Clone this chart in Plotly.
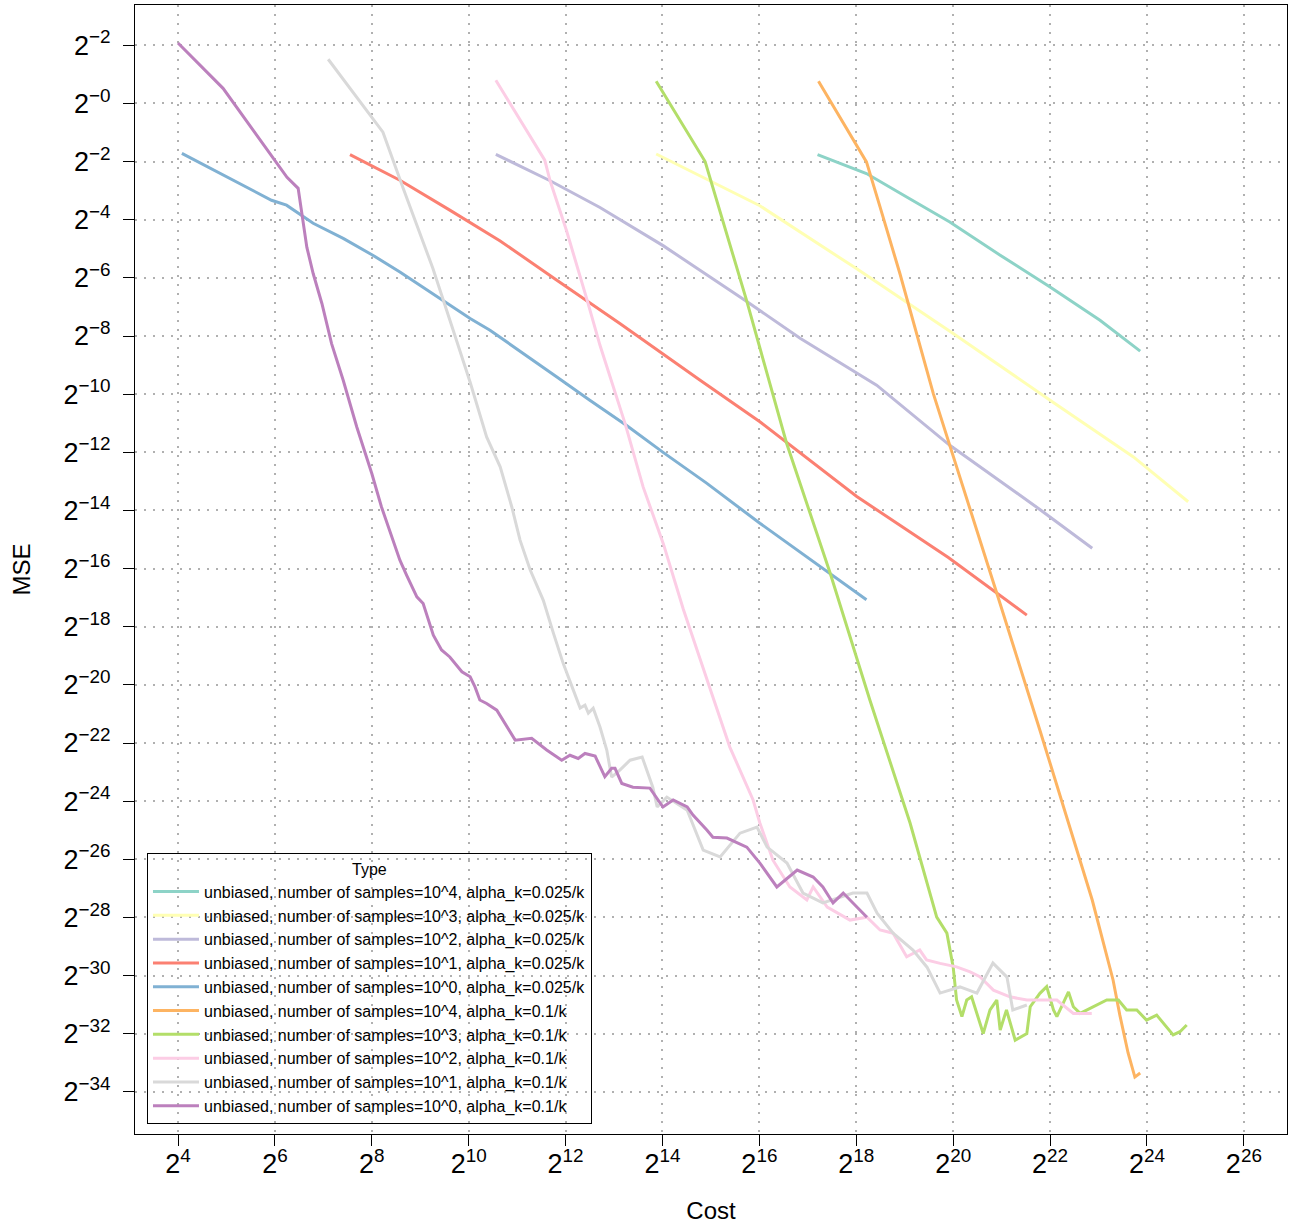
import numpy as np
import plotly.graph_objects as go

# ---- data: log2(cost) and log2(MSE) ----
names = [
    "unbiased, number of samples=10^4, alpha_k=0.025/k",
    "unbiased, number of samples=10^3, alpha_k=0.025/k",
    "unbiased, number of samples=10^2, alpha_k=0.025/k",
    "unbiased, number of samples=10^1, alpha_k=0.025/k",
    "unbiased, number of samples=10^0, alpha_k=0.025/k",
    "unbiased, number of samples=10^4, alpha_k=0.1/k",
    "unbiased, number of samples=10^3, alpha_k=0.1/k",
    "unbiased, number of samples=10^2, alpha_k=0.1/k",
    "unbiased, number of samples=10^1, alpha_k=0.1/k",
    "unbiased, number of samples=10^0, alpha_k=0.1/k",
]
colors = ["#8DD3C7", "#FFFFB3", "#BEBADA", "#FB8072", "#80B1D3",
          "#FDB462", "#B3DE69", "#FCCDE5", "#D9D9D9", "#BC80BD"]

s1_cost = [17.20, 18.21, 19.04, 19.93, 20.97, 22.00, 23.03, 23.86]
s1_mse = [-1.76, -2.41, -3.22, -4.08, -5.22, -6.31, -7.46, -8.52]

s2_cost = [13.87, 16.01, 18.01, 20.00, 22.00, 23.72, 24.85]
s2_mse = [-1.74, -3.52, -5.69, -7.91, -10.21, -12.16, -13.70]

s3_cost = [10.56, 11.68, 12.71, 14.02, 15.74, 16.84, 18.42, 19.93, 21.76, 22.87]
s3_mse = [-1.75, -2.66, -3.58, -4.90, -6.81, -8.08, -9.69, -11.76, -13.93, -15.30]

s4_cost = [7.55, 8.58, 9.61, 10.65, 11.82, 13.12, 14.77, 16.01, 18.01, 19.90, 21.52]
s4_mse = [-1.76, -2.64, -3.67, -4.73, -6.08, -7.57, -9.51, -10.95, -13.52, -15.62, -17.60]

s5_cost = [4.08, 5.93, 6.24, 6.79, 7.41, 8.02, 8.58, 9.20, 10.03, 10.44, 10.99,
           11.82, 12.50, 13.26, 14.02, 14.91, 16.01, 16.84, 18.21]
s5_mse = [-1.72, -3.33, -3.50, -4.12, -4.64, -5.22, -5.80, -6.48, -7.40, -7.80, -8.43,
          -9.41, -10.21, -11.08, -12.01, -13.06, -14.44, -15.43, -17.07]

s6_cost = [17.22, 18.21, 18.49, 18.90, 19.59, 20.35, 20.92, 21.79, 22.87, 23.30,
           23.44, 23.61, 23.75, 23.86]
s6_mse = [0.76, -2.01, -3.56, -5.85, -9.98, -13.93, -16.95, -21.56, -27.40, -30.15,
          -31.36, -32.66, -33.49, -33.35]

s7_cost = [13.87, 14.88, 15.74, 16.56, 17.46, 18.01, 18.28, 19.11, 19.66, 19.87, 20.00,
           20.07, 20.18, 20.28, 20.38, 20.62, 20.76, 20.90, 20.97, 21.10, 21.28, 21.52,
           21.59, 21.79, 21.93, 22.07, 22.14, 22.38, 22.48, 22.62, 22.89, 23.17, 23.41,
           23.58, 23.79, 23.99, 24.20, 24.41, 24.54, 24.68, 24.82]
s7_mse = [0.76, -2.00, -6.80, -11.68, -16.15, -19.05, -20.52, -24.75, -27.99, -28.54, -29.71,
          -30.84, -31.41, -30.84, -30.73, -31.99, -31.18, -30.84, -31.87, -31.18, -32.22, -31.99,
          -31.07, -30.61, -30.38, -31.18, -31.41, -30.56, -31.07, -31.30, -31.07, -30.84, -30.84,
          -31.18, -31.18, -31.53, -31.36, -31.76, -32.04, -31.93, -31.70]

s8_cost = [10.56, 11.57, 11.68, 12.02, 12.44, 12.71, 13.23, 13.60, 14.02, 14.43, 15.04,
           15.39, 15.87, 16.01, 16.28, 16.63, 16.98, 17.11, 17.40, 17.87, 18.22, 18.49,
           18.76, 19.04, 19.31, 19.45, 19.73, 20.07, 20.35, 20.55, 20.83, 21.17, 21.52,
           21.79, 22.14, 22.48, 22.86]
s8_mse = [0.80, -1.95, -2.66, -4.38, -6.74, -8.32, -11.02, -13.19, -15.16, -17.40, -20.42,
          -22.14, -23.96, -24.75, -26.03, -26.95, -27.40, -26.95, -27.64, -28.09, -27.99, -28.43,
          -28.54, -29.35, -29.12, -29.46, -29.58, -29.70, -29.87, -30.04, -30.50, -30.73, -30.84,
          -30.84, -30.84, -31.30, -31.30]

s9_cost = [7.10, 8.23, 8.64, 9.26, 9.68, 10.03, 10.37, 10.65, 10.89, 11.06, 11.27, 11.54,
           11.75, 11.95, 12.16, 12.30, 12.40, 12.47, 12.57, 12.71, 12.85, 12.95, 13.12,
           13.33, 13.58, 13.80, 13.89, 14.09, 14.51, 14.84, 15.19, 15.60, 15.95, 16.16,
           16.57, 16.90, 17.31, 17.93, 18.22, 18.43, 18.76, 19.17, 19.46, 19.73, 20.14,
           20.49, 20.82, 21.11, 21.23, 21.52]
s9_mse = [1.52, -0.99, -2.88, -5.67, -7.80, -9.59, -11.47, -12.50, -13.88, -15.02, -16.05,
          -17.09, -18.23, -19.26, -20.18, -20.80, -20.70, -20.97, -20.80, -21.45, -22.24,
          -23.17, -22.93, -22.59, -22.48, -23.52, -24.20, -23.86, -24.31, -25.68, -25.92,
          -25.10, -24.89, -25.58, -26.13, -27.16, -27.50, -27.16, -27.16, -27.85, -28.54,
          -29.12, -29.71, -30.60, -30.39, -30.60, -29.57, -30.05, -31.18, -31.01]

s10_cost = [4.00, 4.93, 5.55, 6.00, 6.25, 6.48, 6.66, 6.79, 6.97, 7.17, 7.41, 7.69, 8.00,
            8.20, 8.44, 8.58, 8.72, 8.93, 9.06, 9.17, 9.27, 9.44, 9.61, 9.86, 10.03, 10.13,
            10.23, 10.37, 10.58, 10.96, 11.30, 11.61, 11.92, 12.09, 12.26, 12.40, 12.61,
            12.81, 12.95, 13.02, 13.16, 13.39, 13.74, 14.01, 14.22, 14.51, 14.63, 14.92,
            15.04, 15.33, 15.74, 16.01, 16.36, 16.78, 17.11, 17.31, 17.52, 17.73, 18.01,
            18.14, 18.22]
s10_mse = [2.08, 0.52, -0.92, -1.95, -2.54, -2.92, -4.95, -5.85, -6.88, -8.26, -9.52, -11.13,
           -12.73, -13.88, -15.02, -15.71, -16.23, -16.97, -17.20, -17.77, -18.29, -18.80,
           -19.04, -19.55, -19.72, -20.07, -20.52, -20.64, -20.87, -21.90, -21.84, -22.24,
           -22.59, -22.42, -22.53, -22.36, -22.45, -23.16, -22.87, -22.87, -23.39, -23.52,
           -23.55, -24.20, -23.96, -24.20, -24.48, -25.00, -25.24, -25.27, -25.58, -26.13,
           -26.95, -26.37, -26.61, -26.95, -27.50, -27.16, -27.64, -27.85, -27.99]

series_cost = [s1_cost, s2_cost, s3_cost, s4_cost, s5_cost, s6_cost, s7_cost, s8_cost, s9_cost, s10_cost]
series_mse = [s1_mse, s2_mse, s3_mse, s4_mse, s5_mse, s6_mse, s7_mse, s8_mse, s9_mse, s10_mse]

x_tick_exps = list(range(4, 27, 2))
y_tick_exps = list(range(2, -35, -2))
x_tick_text = ["2<sup>%d</sup>" % k for k in x_tick_exps]
# labels as printed on the original (its top label reads 2^-2)
y_tick_text = ["2<sup>\u2212%d</sup>" % abs(k) for k in y_tick_exps]

FONT = "Liberation Sans, Arial, Helvetica, sans-serif"

fig = go.Figure()
for name, col, cx, my in zip(names, colors, series_cost, series_mse):
    fig.add_trace(go.Scatter(
        x=np.power(2.0, cx), y=np.power(2.0, my), mode="lines", name=name,
        line=dict(color=col, width=3),
    ))

x_range = [3.1125 * np.log10(2), 26.89 * np.log10(2)]
y_range = [-35.448 * np.log10(2), 3.386 * np.log10(2)]

GRID = dict(showgrid=True, gridcolor="#b0b0b0", griddash="2px,7px", gridwidth=1.6)

fig.update_layout(
    width=1289, height=1228,
    margin=dict(l=135, r=2, t=5, b=94, autoexpand=False),
    paper_bgcolor="white", plot_bgcolor="white",
    font=dict(family=FONT, color="black"),
    showlegend=True,
    legend=dict(
        x=0.0104, y=0.009, xanchor="left", yanchor="bottom",
        bgcolor="rgba(0,0,0,0)", bordercolor="black", borderwidth=1,
        itemwidth=46,
        font=dict(size=16, family=FONT, color="black"),
        title=dict(text="Type", side="top center", font=dict(size=16, family=FONT)),
    ),
)
fig.update_xaxes(
    type="log", range=x_range, automargin=False,
    tickmode="array", tickvals=np.power(2.0, x_tick_exps), ticktext=x_tick_text,
    tickfont=dict(size=27, family=FONT), ticks="outside", ticklen=11, tickcolor="black",
    ticklabelstandoff=-5,
    showline=True, linecolor="black", linewidth=1, mirror=True,
    zeroline=False, **GRID,
    title=dict(text="Cost", font=dict(size=24, family=FONT), standoff=23),
)
fig.update_yaxes(
    type="log", range=y_range, automargin=False,
    tickmode="array", tickvals=np.power(2.0, y_tick_exps), ticktext=y_tick_text,
    tickfont=dict(size=27, family=FONT), ticks="outside", ticklen=11, tickcolor="black",
    ticklabelstandoff=7,
    showline=True, linecolor="black", linewidth=1, mirror=True,
    zeroline=False, **GRID,
    title=dict(text="MSE", font=dict(size=24, family=FONT), standoff=26),
)

fig.write_html(
    "out.html",
    config={"displayModeBar": False},
    post_script="document.body.style.margin='0';document.body.style.overflow='hidden';",
)
